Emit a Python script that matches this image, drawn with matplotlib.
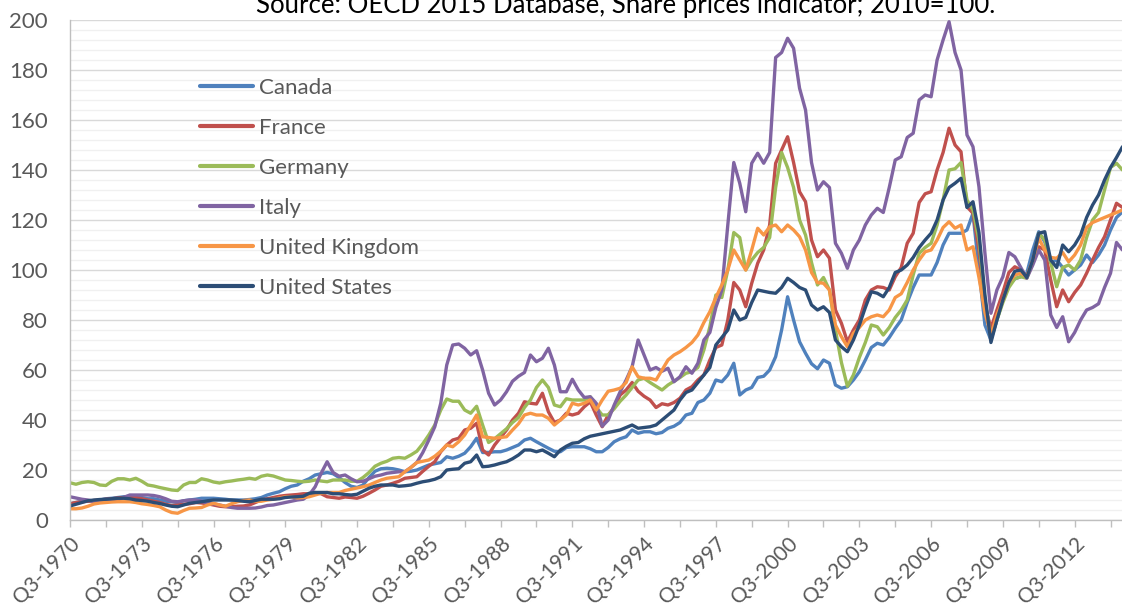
import matplotlib
matplotlib.use("Agg")
import matplotlib.pyplot as plt
from matplotlib.ticker import MultipleLocator

# quarterly share price index, 2010=100, Q3-1970 .. Q3-2014
canada = [
    6.5, 7, 7.5, 7.5, 7.5, 8, 8.5, 8.7, 9, 9.3,
    9.5, 9.3, 9, 8.5, 8.5, 8, 7.5, 7.3, 7, 7.7,
    8, 8.3, 8.7, 8.7, 8.7, 8.5, 8.3, 8, 8, 8,
    8.2, 8.5, 9, 10, 10.7, 11.3, 12.5, 13.5, 14, 15.5,
    16.5, 18, 18.5, 19, 18.5, 17, 15, 13.5, 13, 14,
    17, 19.5, 20.5, 20.7, 20.5, 20, 19.3, 19.5, 20, 21,
    22, 22.5, 23, 25.3, 24.7, 25.5, 26.7, 29.3, 32.7, 27,
    27, 27.3, 27.3, 28, 29, 30, 32, 32.7, 31.3, 30,
    28.7, 27.5, 27.3, 29, 29.3, 29.3, 29.3, 28.5, 27.3, 27.3,
    29, 31.3, 32.5, 33.3, 36, 34.7, 35.3, 35.3, 34.5, 35,
    36.7, 37.5, 39, 42, 42.7, 47, 48, 50.7, 56, 55.3,
    58, 62.7, 50, 52, 53, 57, 57.5, 60, 65.3, 76,
    89.3, 80, 71.3, 66.7, 62.5, 60.5, 64, 62.7, 54, 52.7,
    53.3, 56, 59.3, 64, 69, 70.7, 70, 73, 76.7, 80,
    87, 93, 98, 98, 98, 103, 110, 114.7, 114.7, 114.7,
    116, 122.7, 100, 78, 72, 80, 88, 94, 96.5, 97.3,
    98.7, 108, 115.3, 111.3, 103, 104, 101, 98, 100, 102,
    106, 103, 106, 110, 116, 121, 123.3,
]
france = [
    6.5, 7, 7.3, 7.5, 7.8, 8, 8.3, 8.5, 8.8, 9,
    9.3, 9, 8.5, 8, 7.5, 7, 6.3, 5.8, 6, 6.3,
    6.5, 7, 6.8, 6.5, 6, 5.5, 5.3, 5.3, 5.5, 5.6,
    6, 7, 8, 8.5, 9, 9.5, 9.8, 10, 10.2, 10.5,
    10.5, 11, 10.5, 9.3, 9, 8.7, 9.2, 9, 8.7, 9.5,
    10.7, 12, 13.5, 14, 14.7, 15.5, 16.7, 17, 17.3, 19.5,
    21.5, 23.3, 27.3, 30, 32, 32.7, 36, 36.7, 38.7, 28,
    26, 30, 33, 36, 40, 42.7, 47.3, 46.7, 46.4, 50.7,
    43.3, 39, 40, 42.7, 42, 42.7, 45.3, 47.3, 42, 37.3,
    42, 45, 50, 52, 55, 51.5, 49.5, 48, 45, 46.5,
    46, 47, 48.7, 52, 53.3, 56, 58, 64, 69, 70,
    80, 95, 92, 85.3, 94.7, 102.7, 108, 118, 142.7, 148,
    153.3, 143, 131.3, 127.3, 112, 105.3, 108, 104.7, 84, 78.7,
    71.3, 76, 80, 88, 92, 93.3, 93, 92, 97.3, 101,
    110.7, 114.7, 127, 130.5, 131.3, 140, 147, 156.7, 150, 147.3,
    125.3, 122.7, 108, 86, 76.7, 84, 91, 99, 101.3, 100,
    97.3, 103, 109.3, 108, 96, 85.3, 92, 87.3, 91, 94,
    98.7, 104, 109, 113.3, 120, 126.7, 125,
]
germany = [
    14.9, 14.3, 15, 15.3, 15, 14, 13.8, 15.5, 16.5, 16.5,
    16, 16.7, 15.5, 14, 13.6, 13, 12.5, 12, 11.8, 14,
    15, 15, 16.5, 16, 15.2, 14.8, 15.3, 15.6, 16, 16.3,
    16.7, 16.3, 17.5, 18, 17.6, 16.8, 16, 15.8, 15.5, 15.3,
    15.5, 16, 15.6, 15.3, 16, 16, 16, 15.5, 15.5, 17,
    19, 21.5, 22.7, 23.5, 24.7, 25, 24.7, 26, 27.5, 30.5,
    34, 38, 44, 48.4, 47.5, 47.5, 44, 42.7, 45.5, 38,
    31, 32.5, 34.5, 36.5, 39, 41, 45, 48, 53, 56,
    53, 46, 45.3, 48.5, 48, 48, 48, 49.3, 45, 42,
    42, 44.5, 47.5, 50, 53, 56, 56.7, 55, 53.5, 52,
    54, 55.5, 57, 58.7, 59.3, 61, 68, 77.3, 90, 89,
    100, 115, 113, 100, 104, 107, 109, 113, 133, 147,
    141, 133, 120, 114, 103, 94, 97, 92, 76, 63,
    53.5, 58, 65, 71, 78, 77.3, 74, 77, 81, 84,
    88, 98, 106.7, 109, 110.7, 118, 128, 140, 140.5, 143,
    128, 124, 112, 88, 72.7, 80, 87, 93, 96.5, 97.3,
    96.7, 103, 114.7, 112, 103, 93.3, 101, 102, 100, 104,
    113, 120, 123, 132, 141, 142.7, 140,
]
italy = [
    9.3, 8.8, 8.3, 8, 7.5, 7.3, 7.3, 7.6, 8, 9,
    10, 10, 10, 10, 9.8, 9.3, 8.5, 7.5, 7.3, 7.7,
    8, 8, 7.5, 6.7, 6.5, 6, 5.5, 5, 4.7, 4.7,
    4.7, 4.8, 5.2, 5.8, 6, 6.5, 7, 7.5, 8, 8.3,
    10, 13.3, 18.7, 23.3, 19, 17.5, 18, 16.5, 15.3, 15.5,
    16.5, 17.5, 18, 18.7, 19, 19.3, 19.3, 21, 23, 27,
    32, 37.3, 46.7, 62, 70, 70.4, 68.7, 66, 67.7, 60,
    50.7, 46, 48, 51.3, 55.5, 57.5, 59, 66, 63.3, 64.7,
    68.7, 62, 51.3, 51.3, 56.3, 52, 49, 49.3, 46.7, 37.5,
    40, 46, 51.3, 56, 61.3, 72, 66, 60, 61, 59.5,
    60.7, 55.3, 57.3, 61.3, 58.7, 62.7, 72, 75, 85, 92,
    118, 143, 134.7, 123.3, 142.7, 146.7, 142.7, 147, 185, 187,
    192.7, 188.7, 172.7, 164, 143, 132, 135.3, 133, 110.7, 106.7,
    100.7, 108, 112, 118, 122, 124.7, 123, 133, 144, 145.3,
    153, 154.7, 168, 170, 169.3, 184, 192, 199.3, 187, 180,
    154, 149.3, 133.3, 106.7, 82.7, 92, 97.3, 107, 105.3, 101,
    96.7, 102, 108, 104, 82, 77, 81.3, 71.3, 75, 80,
    84, 85, 86.5, 93, 98.7, 111, 108,
]
uk = [
    4.5, 4.5, 4.8, 5.5, 6.4, 6.8, 7, 7.2, 7.3, 7.3,
    7.3, 7, 6.5, 6.2, 5.8, 5.3, 4, 3, 2.7, 3.8,
    4.7, 4.8, 5, 6, 6.7, 6, 5.5, 6.5, 7.3, 7.8,
    8, 7.5, 7.5, 8, 8.3, 8.8, 9.3, 9.3, 8.8, 9,
    9.3, 10, 10.7, 11, 11, 11, 11.8, 12.3, 12.8, 13.3,
    14, 15, 16, 16.7, 17, 17.3, 19.3, 21, 23, 23.5,
    24, 25.5, 27.5, 30, 29.3, 31.3, 34, 38, 42, 33.3,
    33, 32.7, 33, 33.3, 36, 38.5, 42, 42.7, 42, 42,
    40.7, 38, 40, 42, 46.7, 46, 46.7, 48, 44, 48,
    51.5, 52, 52.7, 55, 61.3, 57.3, 56.7, 56.7, 56, 60,
    64, 66, 67.3, 69, 71, 74, 79, 83.3, 89, 94,
    100, 108, 104, 100, 108, 116.7, 114, 117.3, 118, 115.3,
    118, 116, 113.3, 108, 99, 95, 94.7, 92, 78, 73.3,
    69.3, 74.7, 77, 80, 81.3, 82, 81.3, 84, 89, 90.5,
    95, 100, 104, 107.3, 108, 112, 117, 119.3, 116.7, 118,
    108, 109.3, 97, 83, 74, 82, 88, 95, 98, 98.7,
    97.3, 104, 112.7, 108, 105, 104.7, 107, 103.3, 106, 110,
    117, 119, 120, 121, 122, 123, 124,
]
usa = [
    5.6, 6.3, 7, 7.7, 8, 8.2, 8.3, 8.5, 8.7, 8.7,
    8.5, 8, 7.8, 7.5, 7, 6.6, 6, 5.5, 5.3, 6,
    6.7, 7, 7.3, 7.7, 8, 8, 8, 8, 7.8, 7.5,
    7.3, 7.8, 8.3, 8.3, 8.3, 8.5, 9, 9.2, 9.3, 9.5,
    10.7, 11, 11, 11, 10.5, 10.5, 10.2, 10, 10.3, 11.5,
    12.7, 13.5, 14, 14, 14, 13.5, 13.7, 14, 14.7, 15.3,
    15.7, 16.3, 17.3, 20, 20.3, 20.5, 22.7, 23.3, 26, 21.3,
    21.5, 22, 22.7, 23.3, 24.5, 26, 28, 28, 27.3, 28,
    26.7, 25.3, 28, 29.5, 30.7, 31, 32.5, 33.5, 34, 34.5,
    35, 35.5, 36, 37, 38, 36.7, 37, 37.3, 38, 40,
    42, 44, 48, 51, 52, 55, 58, 61, 70, 73,
    76, 84, 80, 81, 87, 92, 91.5, 91, 90.7, 93,
    96.7, 95, 93, 92, 86, 84, 85.3, 83, 72, 69.3,
    67.3, 72, 78, 85, 91.3, 90.7, 89.3, 93, 99, 100,
    102, 105, 109, 112, 114.7, 120, 128, 133, 134.7, 136.7,
    125, 127.3, 115, 90, 71, 80, 88, 95, 99.5, 100,
    97, 104, 114.7, 115.3, 104, 101, 110, 107.3, 110, 114,
    121, 126, 130, 136, 141, 145, 149.3,
]

countries = ["Canada", "France", "Germany", "Italy", "United Kingdom", "United States"]
series = [canada, france, germany, italy, uk, usa]
colors = ["#4F81BD", "#C0504D", "#9BBB59", "#8064A2", "#F79646", "#2C4D75"]

# category labels Q3-1970 ... Q3-2014
quarters = []
for y in range(1970, 2015):
    for q in range(1, 5):
        if (y == 1970 and q < 3) or (y == 2014 and q > 3):
            continue
        quarters.append(f"Q{q}-{y}")

FONT = "Lato"
GREY = "#595959"
FS = 16

fig = plt.figure(figsize=(11.22, 6.09), dpi=100)
ax = fig.add_axes([70 / 1122, 89 / 609, 1052 / 1122, 500 / 609])

x = list(range(len(quarters)))
for name, vals, c in zip(countries, series, colors):
    ax.plot(x, vals, color=c, lw=2.4, label=name,
            solid_joinstyle="round", solid_capstyle="round")

ax.set_xlim(0, 1052 / 5.98)
ax.set_ylim(0, 200)

# gridlines: major every 20, light minor every 4
ax.yaxis.set_major_locator(MultipleLocator(20))
ax.yaxis.set_minor_locator(MultipleLocator(4))
ax.grid(axis="y", which="major", color="#D9D9D9", lw=1.0)
ax.grid(axis="y", which="minor", color="#F0F0F0", lw=1.0)
ax.set_axisbelow(True)

ax.set_xticks(x[::12])
ax.set_xticklabels(quarters[::12], rotation=45, ha="right", va="top",
                   rotation_mode="anchor", fontsize=15, color=GREY,
                   family=FONT)
ax.set_xticks(x[::6], minor=True)
ax.tick_params(axis="x", which="both", length=5, width=1, color="#BFBFBF",
               direction="out", pad=5)
ax.tick_params(axis="y", which="both", length=0, pad=16)
for lab in ax.get_yticklabels():
    lab.set_fontsize(FS)
    lab.set_color(GREY)
    lab.set_family(FONT)

for side in ["top", "right"]:
    ax.spines[side].set_visible(False)
for side in ["left", "bottom"]:
    ax.spines[side].set_color("#BFBFBF")
    ax.spines[side].set_linewidth(1.0)

leg = ax.legend(loc="upper left", bbox_to_anchor=(130 / 1052, 0.885),
                frameon=False, handlelength=2.39, handletextpad=0.27,
                labelspacing=0.9, borderpad=0, borderaxespad=0,
                prop={"family": FONT, "size": FS})
for t in leg.get_texts():
    t.set_color(GREY)
for h in leg.get_lines():
    h.set_linewidth(3.0)

fig.text(626 / 1122, 1 - 13 / 609,
         "Source: OECD 2015 Database, Share prices indicator; 2010=100.",
         ha="center", va="baseline", fontsize=18.5, family=FONT, color="black")

fig.savefig("out.png", dpi=100, facecolor="white")
